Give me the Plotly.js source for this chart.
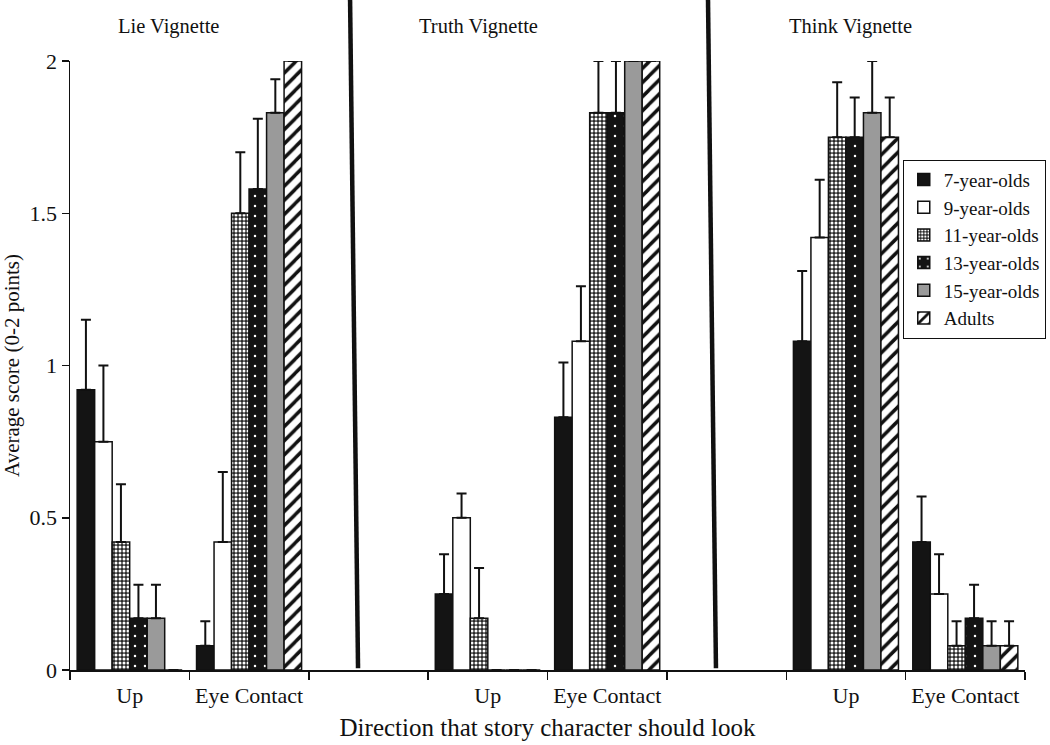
<!DOCTYPE html>
<html>
<head>
<meta charset="utf-8">
<script src="https://cdn.plot.ly/plotly-3.0.1.min.js"></script>
<style>html,body{margin:0;padding:0;background:#fff}#chart{width:1050px;height:745px}</style>
</head>
<body>
<div id="chart"></div>
<script>
// Categories (8 slots: two empty separator slots between vignettes)
const categories = ["Lie-Up","Lie-EC","sep1","Truth-Up","Truth-EC","sep2","Think-Up","Think-EC"];
const tickLabels = ["Up","Eye Contact","","Up","Eye Contact","","Up","Eye Contact"];
const seriesNames = ["7-year-olds","9-year-olds","11-year-olds","13-year-olds","15-year-olds","Adults"];

// Mean scores per series (null in separator slots)
const age7   = [0.92, 0.08, null, 0.25, 0.83, null, 1.08, 0.42];
const age9   = [0.75, 0.42, null, 0.50, 1.08, null, 1.42, 0.25];
const age11  = [0.42, 1.50, null, 0.17, 1.83, null, 1.75, 0.08];
const age13  = [0.17, 1.58, null, 0.00, 1.83, null, 1.75, 0.17];
const age15  = [0.17, 1.83, null, 0.00, 2.00, null, 1.83, 0.08];
const adults = [0.00, 2.00, null, 0.00, 2.00, null, 1.75, 0.08];

// Upper error bar lengths
const err7   = [0.23, 0.08, null, 0.13, 0.18, null, 0.23, 0.15];
const err9   = [0.25, 0.23, null, 0.08, 0.18, null, 0.19, 0.13];
const err11  = [0.19, 0.20, null, 0.165, 0.17, null, 0.18, 0.08];
const err13  = [0.11, 0.23, null, 0.00, 0.17, null, 0.13, 0.11];
const err15  = [0.11, 0.11, null, 0.00, 0.00, null, 0.17, 0.08];
const errAd  = [0.00, 0.00, null, 0.00, 0.00, null, 0.13, 0.08];

const values = [age7, age9, age11, age13, age15, adults];
const errors = [err7, err9, err11, err13, err15, errAd];

const styles = [
  {color:"#141414"},
  {color:"#ffffff"},
  {color:"#ffffff", pattern:{shape:".", bgcolor:"#2a2a2a", fgcolor:"#ffffff", size:4, solidity:0.45}},
  {color:"#ffffff", pattern:{shape:".", bgcolor:"#141414", fgcolor:"#ffffff", size:10, solidity:0.05}},
  {color:"#9a9a9a"},
  {color:"#ffffff", pattern:{shape:"/", bgcolor:"#ffffff", fgcolor:"#111111", size:10, solidity:0.35}}
];

const FONT = "Liberation Serif, Times New Roman, serif";

const traces = seriesNames.map((name, i) => {
  const m = {color: styles[i].color, line:{color:"#111", width:1.5}};
  if (styles[i].pattern) m.pattern = styles[i].pattern;
  return {
    type:"bar",
    name:name,
    x:categories,
    y:values[i],
    marker:m,
    error_y:{type:"data", symmetric:false, array:errors[i], arrayminus:errors[i].map(()=>0),
             color:"#111", thickness:2, width:5},
    hoverinfo:"y+name"
  };
});

const layout = {
  width:1050, height:745,
  margin:{l:70, r:25, t:61, b:75, autoexpand:false},
  paper_bgcolor:"#fff", plot_bgcolor:"#fff",
  font:{family:FONT, size:22, color:"#111"},
  barmode:"group",
  bargap:0.12,
  bargroupgap:0,
  showlegend:true,
  legend:{x:0.872, y:0.838, xanchor:"left", yanchor:"top",
          bgcolor:"#fff", bordercolor:"#111", borderwidth:1,
          itemwidth:30,
          font:{family:FONT, size:19, color:"#111"}, tracegroupgap:0},
  xaxis:{
    type:"category",
    categoryorder:"array", categoryarray:categories,
    tickmode:"array", tickvals:categories, ticktext:tickLabels,
    tickson:"boundaries",
    ticks:"outside", ticklen:8, tickcolor:"#111", tickwidth:1.5,
    ticklabelstandoff:5,
    showline:true, linecolor:"#111", linewidth:1.5,
    showgrid:false, zeroline:false,
    tickfont:{family:FONT, size:22, color:"#111"},
    title:{text:"Direction that story character should look", font:{family:FONT, size:25, color:"#111"}, standoff:11}
  },
  yaxis:{
    range:[0,2],
    tickvals:[0,0.5,1,1.5,2], ticktext:["0","0.5","1","1.5","2"],
    ticks:"outside", ticklen:7, tickcolor:"#111", tickwidth:1.5,
    showline:true, linecolor:"#111", linewidth:1.5,
    showgrid:false, zeroline:false,
    tickfont:{family:FONT, size:22, color:"#111"},
    title:{text:"Average score (0-2 points)", font:{family:FONT, size:21, color:"#111"}, standoff:9}
  },
  annotations:[
    {text:"Lie Vignette", xref:"paper", yref:"paper", x:0.103, y:1.056, showarrow:false, xanchor:"center", yanchor:"middle", font:{family:FONT, size:20.5, color:"#111"}},
    {text:"Truth Vignette", xref:"paper", yref:"paper", x:0.428, y:1.056, showarrow:false, xanchor:"center", yanchor:"middle", font:{family:FONT, size:20.5, color:"#111"}},
    {text:"Think Vignette", xref:"paper", yref:"paper", x:0.817, y:1.056, showarrow:false, xanchor:"center", yanchor:"middle", font:{family:FONT, size:20.5, color:"#111"}}
  ],
  shapes:[
    {type:"line", xref:"paper", yref:"paper", x0:0.2932, y0:1.11, x1:0.3016, y1:0.003, line:{color:"#111", width:4.5}},
    {type:"line", xref:"paper", yref:"paper", x0:0.668, y0:1.11, x1:0.6764, y1:0.003, line:{color:"#111", width:4.5}}
  ]
};

Plotly.newPlot("chart", traces, layout, {displayModeBar:false, staticPlot:true});
</script>
</body>
</html>
